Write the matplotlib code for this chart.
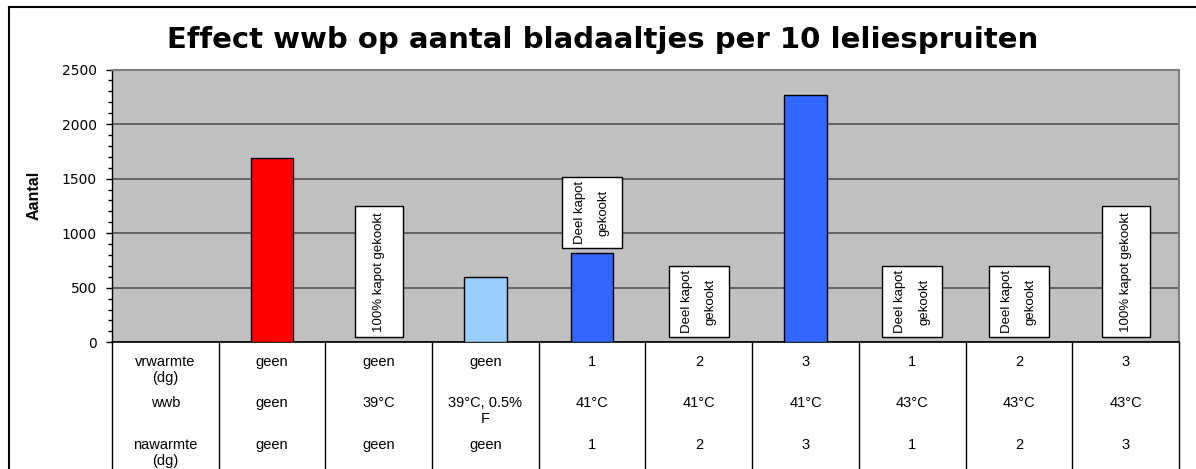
import matplotlib
matplotlib.use('Agg')
import matplotlib.pyplot as plt
import matplotlib.transforms as mtransforms
from matplotlib.patches import Rectangle
from matplotlib.lines import Line2D
import numpy as np

plt.rcParams['font.family'] = ['Liberation Sans', 'DejaVu Sans']

# chart data
title = 'Effect wwb op aantal bladaaltjes per 10 leliespruiten'
ylabel = 'Aantal'
row_names = ['vrwarmte\n(dg)', 'wwb', 'nawarmte\n(dg)']
vrwarmte = ['geen', 'geen', 'geen', '1', '2', '3', '1', '2', '3']
wwb = ['geen', '39°C', '39°C, 0.5%\nF', '41°C', '41°C', '41°C', '43°C', '43°C', '43°C']
nawarmte = ['geen', 'geen', 'geen', '1', '2', '3', '1', '2', '3']
# first slot is the row-header column of the data table (no bar)
aantal = [0, 1690, 0, 595, 815, 0, 2270, 0, 0, 0]
bar_colors = ['none', '#FF0000', 'none', '#99CCFF', '#3366FF', 'none', '#3366FF', 'none', 'none', 'none']
box_labels = ['', '', '100% kapot gekookt', '', 'Deel kapot\ngekookt', 'Deel kapot\ngekookt',
              '', 'Deel kapot\ngekookt', 'Deel kapot\ngekookt', '100% kapot gekookt']

fig = plt.figure(figsize=(11.96, 4.69), dpi=100)
ax = fig.add_axes([0.0936, 0.2701, 0.8922, 0.5817])
ax.set_facecolor('#C0C0C0')

x = np.arange(len(aantal))
for xi, v, c in zip(x, aantal, bar_colors):
    if v > 0:
        ax.bar(xi, v, width=0.4, color=c, edgecolor='black', linewidth=1, zorder=3)

ax.set_xlim(-0.5, len(aantal) - 0.5)
ax.set_ylim(0, 2500)
ax.set_yticks(np.arange(0, 2501, 500))
ax.set_yticks(np.arange(0, 2501, 100), minor=True)
ax.yaxis.grid(True, which='major', color='#555555', linewidth=1.2)
ax.set_axisbelow(True)
ax.set_xticks([])
ax.tick_params(axis='y', which='major', length=4.3, width=1, pad=6.5, labelsize=10)
ax.tick_params(axis='y', which='minor', length=2.9, width=1)
for lbl in ax.get_yticklabels():
    lbl.set_family('DejaVu Sans')
for side in ['top', 'right']:
    ax.spines[side].set_color('#808080')
    ax.spines[side].set_linewidth(1.5)
ax.spines['left'].set_linewidth(1)
ax.spines['bottom'].set_linewidth(1.2)

# data labels in white boxes
for xi, v, lab in zip(x, aantal, box_labels):
    if not lab:
        continue
    n = lab.count('\n') + 1
    w = 0.45 if n == 1 else 0.56
    h = 1205 if n == 1 else 657
    y0 = v + 45
    ax.add_patch(Rectangle((xi - w / 2, y0), w, h, facecolor='white', edgecolor='black',
                           linewidth=1, zorder=4))
    ax.text(xi, y0 + h / 2, lab, rotation=90, ha='center', va='center', multialignment='center',
            linespacing=2.3, fontsize=9.5, zorder=5)

# data table under the axis
trans = mtransforms.blended_transform_factory(ax.transData, ax.transAxes)
for b in np.arange(-0.5, len(aantal)):
    ax.plot([b, b], [0, -0.47], color='black', lw=1, transform=trans, clip_on=False)

rows = [vrwarmte, wwb, nawarmte]
row_tops = [-0.045, -0.197, -0.349]
for name, vals, yt in zip(row_names, rows, row_tops):
    ax.text(x[0], yt, name, ha='center', va='top', fontsize=10.5, linespacing=1.2,
            transform=trans)
    for xi, val in zip(x[1:], vals):
        ax.text(xi, yt, val, ha='center', va='top', fontsize=10.5, linespacing=1.2,
                transform=trans)

fig.text(603 / 1196, 1 - 48.3 / 469, title, ha='center', va='baseline', fontsize=21,
         fontweight='bold', family='DejaVu Sans')
fig.text(34.5 / 1196, 1 - 195 / 469, ylabel, rotation=90, ha='center', va='center',
         fontsize=11.5, fontweight='bold')

# chart area border (cropped at right and bottom)
fig.add_artist(Line2D([9 / 1196, 1], [1 - 7 / 469] * 2, color='black', lw=1.5,
                      transform=fig.transFigure))
fig.add_artist(Line2D([9 / 1196, 9 / 1196], [0, 1 - 7 / 469], color='black', lw=1.5,
                      transform=fig.transFigure))

fig.savefig('out.png', dpi=100)
